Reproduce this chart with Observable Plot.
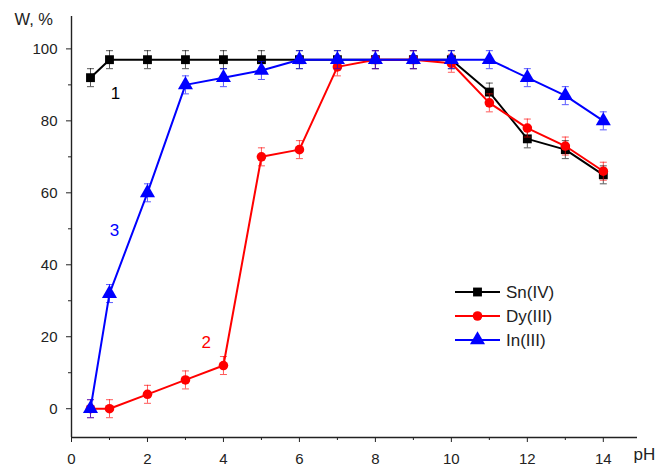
<!DOCTYPE html>
<html>
<head>
<meta charset="utf-8">
<script src="https://cdn.jsdelivr.net/npm/d3@7"></script>
<script src="https://cdn.jsdelivr.net/npm/@observablehq/plot@0.6"></script>
<style>
  html, body { margin: 0; padding: 0; background: #fff; }
  #chart { position: relative; width: 657px; height: 468px; }
  #chart svg { font-family: "Liberation Sans", Arial, sans-serif; }
</style>
</head>
<body>
<div id="chart"></div>
<script>
// pH values at which sorption was measured
const pH = [0.5, 1, 2, 3, 4, 5, 6, 7, 8, 9, 10, 11, 12, 13, 14];

// Degree of sorption W, %
const snIV  = [92, 97, 97, 97, 97, 97, 97, 97, 97, 97, 97, 88, 75, 72, 65];
const dyIII = [0, 0, 4, 8, 12, 70, 72, 95, 97, 97, 96, 85, 78, 73, 66];
const inIII = [0, 32, 60, 90, 92, 94, 97, 97, 97, 97, 97, 97, 92, 87, 80];

// Measurement uncertainty, ± W %
const errW = 2.5;

const seriesNames = ["Sn(IV)", "Dy(III)", "In(III)"];
const seriesValues = [snIV, dyIII, inIII];
const seriesColors = ["#000000", "#ff0000", "#0000ff"];
const seriesSymbols = ["square", "circle", "triangle"];
const seriesRadius = [5, 4.8, 5.6];

// Curve numbers written next to each curve: [number, pH, W]
const curveLabels = [["1", 1.16, 87.5], ["2", 3.55, 18.5], ["3", 1.13, 49.5]];

const xMajor = [0, 2, 4, 6, 8, 10, 12, 14];
const xMinor = [1, 3, 5, 7, 9, 11, 13];
const yMajor = [0, 20, 40, 60, 80, 100];
const yMinor = [10, 30, 50, 70, 90];

const rows = seriesNames.flatMap((name, s) =>
  pH.map((x, i) => ({series: name, s, x, w: seriesValues[s][i]}))
);

// horizontal bar used as the error-bar cap
const capSymbol = {
  draw(context, size) {
    const h = Math.sqrt(size / Math.PI);
    context.moveTo(-h, 0);
    context.lineTo(h, 0);
  }
};

const ink = "#222";
const marks = [
  Plot.ruleX([0], {stroke: ink, strokeWidth: 1.4}),
  Plot.ruleY([-8], {stroke: ink, strokeWidth: 1.4}),
  Plot.axisX(xMajor, {tickSize: 5, tickPadding: 11, fontSize: 15, color: ink, label: null}),
  Plot.axisX(xMinor, {tickSize: 3, tickFormat: () => "", label: null, color: ink}),
  Plot.axisY(yMajor, {tickSize: 5, tickPadding: 9, fontSize: 15, color: ink, label: null}),
  Plot.axisY(yMinor, {tickSize: 3, tickFormat: () => "", label: null, color: ink})
];

seriesNames.forEach((name, s) => {
  const d = rows.filter(r => r.s === s);
  const c = seriesColors[s];
  marks.push(
    Plot.ruleX(d, {x: "x", y1: r => r.w - errW, y2: r => r.w + errW, stroke: c, strokeOpacity: 0.65, strokeWidth: 1}),
    Plot.dot(d, {x: "x", y: r => r.w - errW, symbol: capSymbol, r: 3.5, stroke: c, strokeOpacity: 0.65, strokeWidth: 1}),
    Plot.dot(d, {x: "x", y: r => r.w + errW, symbol: capSymbol, r: 3.5, stroke: c, strokeOpacity: 0.65, strokeWidth: 1}),
    Plot.line(d, {x: "x", y: "w", stroke: c, strokeWidth: 2}),
    Plot.dot(d, {x: "x", y: "w", symbol: seriesSymbols[s], r: seriesRadius[s], fill: c, stroke: "none"})
  );
});

curveLabels.forEach(([t, x, y], s) => {
  marks.push(Plot.text([t], {x: () => x, y: () => y, text: d => d, fill: seriesColors[s], fontSize: 17}));
});

// axis titles
marks.push(
  Plot.text(["W, %"], {frameAnchor: "top-left", dx: -57, dy: -3, text: d => d, fontSize: 16.5, fill: ink, textAnchor: "start"}),
  Plot.text(["pH"], {frameAnchor: "bottom-right", dx: -4, dy: 22, text: d => d, fontSize: 17, fill: ink, textAnchor: "start"})
);

const chart = Plot.plot({
  width: 657,
  height: 468,
  marginLeft: 71,
  marginRight: 20,
  marginTop: 16,
  marginBottom: 31,
  x: {domain: [0, 14.9]},
  y: {domain: [-8, 109]},
  style: {background: "#fff", fontFamily: "Liberation Sans, Arial, sans-serif", overflow: "visible"},
  marks
});

// legend inside the plotting area
const svg = d3.select(chart);
const lg = svg.append("g").attr("transform", "translate(455,292)").attr("text-anchor", "start");
seriesNames.forEach((name, s) => {
  const row = lg.append("g").attr("transform", `translate(0,${s * 24})`);
  row.append("line").attr("x1", 0).attr("x2", 45).attr("stroke", seriesColors[s]).attr("stroke-width", 2);
  const r = seriesRadius[s];
  const sym = {square: d3.symbolSquare, circle: d3.symbolCircle, triangle: d3.symbolTriangle}[seriesSymbols[s]];
  row.append("path").attr("transform", "translate(22.5,0)")
    .attr("d", d3.symbol(sym, r * r * Math.PI)()).attr("fill", seriesColors[s]);
  row.append("text").attr("x", 51).attr("y", 0).attr("dy", "0.35em")
    .attr("text-anchor", "start").attr("font-size", 17).attr("fill", ink).text(name);
});

document.getElementById("chart").appendChild(chart);
</script>
</body>
</html>
